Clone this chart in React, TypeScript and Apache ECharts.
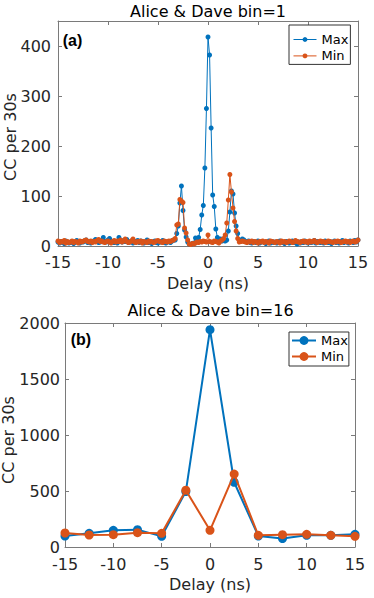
import React, { useEffect, useRef } from "react";
import * as echarts from "echarts";

// ---------- DATA ----------
// Panel (a): bin = 1 (one time-tag unit = 0.15625 ns), delays -15 ... 15 ns
const BIN1_WIDTH_NS = 0.15625;
const bin1Indices: number[] = Array.from({ length: 193 }, (_, i) => i - 96);
const bin1Delays: number[] = bin1Indices.map((k) => k * BIN1_WIDTH_NS);

// Max, bins -96 ... -22
const maxBin1Left = [
  8, 6, 9, 7, 5, 10, 8, 6, 7, 9,
  5, 8, 11, 7, 6, 9, 8, 10, 12, 7,
  9, 6, 8, 10, 13, 9, 7, 8, 11, 17,
  9, 8, 12, 15, 10, 8, 7, 9, 6, 17,
  10, 8, 11, 9, 13, 7, 8, 10, 6, 9,
  8, 11, 7, 10, 9, 6, 8, 12, 7, 9,
  5, 8, 10, 7, 6, 9, 8, 11, 7, 6,
  8, 9, 7, 10, 12,
];
// Max, bins -21 ... 21
const maxBin1Center = [
  12, 25, 40, 86, 120, 71, 32, 18, 8, 4,
  3, 5, 6, 16, 15, 17, 33, 62, 81, 156,
  275, 418, 382, 236, 102, 79, 34, 17, 12, 14,
  10, 12, 10, 12, 30, 68, 110, 104, 66, 40,
  25, 12, 10,
];
// Max, bins 22 ... 96
const maxBin1Right = [
  14, 12, 9, 8, 10, 7, 6, 9, 8, 7,
  10, 6, 8, 9, 7, 5, 8, 10, 6, 9,
  7, 8, 6, 9, 10, 8, 7, 5, 9, 8,
  6, 8, 10, 7, 9, 4, 8, 6, 9, 7,
  10, 8, 6, 9, 7, 8, 11, 6, 9, 8,
  7, 9, 6, 10, 8, 7, 9, 5, 8, 10,
  7, 9, 6, 8, 11, 7, 9, 8, 6, 10,
  9, 7, 11, 8, 12,
];

// Min, bins -96 ... -22
const minBin1Left = [
  10, 7, 9, 8, 11, 6, 9, 7, 8, 10,
  7, 9, 8, 6, 10, 8, 9, 11, 12, 9,
  8, 10, 7, 9, 8, 11, 13, 9, 10, 8,
  7, 9, 10, 8, 6, 9, 11, 8, 10, 9,
  12, 8, 10, 14, 9, 7, 8, 10, 14, 8,
  7, 9, 8, 10, 6, 9, 8, 7, 10, 8,
  9, 7, 8, 10, 11, 9, 8, 7, 10, 9,
  8, 10, 9, 11, 12,
];
// Min, bins -21 ... 21
const minBin1Center = [
  15, 42, 44, 93, 90, 87, 36, 26, 12, 4,
  3, 5, 4, 6, 8, 7, 9, 8, 10, 9,
  8, 22, 9, 8, 7, 10, 9, 8, 6, 10,
  12, 15, 22, 46, 92, 143, 108, 76, 49, 30,
  15, 8, 9,
];
// Min, bins 22 ... 96
const minBin1Right = [
  10, 9, 8, 7, 9, 8, 10, 7, 9, 8,
  6, 9, 8, 10, 7, 9, 8, 6, 10, 9,
  8, 7, 9, 8, 6, 10, 8, 9, 7, 8,
  10, 9, 7, 8, 11, 9, 8, 7, 9, 10,
  8, 9, 7, 10, 8, 9, 11, 8, 7, 9,
  10, 8, 9, 7, 8, 10, 9, 8, 7, 9,
  8, 10, 9, 7, 8, 9, 10, 8, 9, 7,
  9, 10, 8, 9, 12,
];

const maxBin1 = [...maxBin1Left, ...maxBin1Center, ...maxBin1Right];
const minBin1 = [...minBin1Left, ...minBin1Center, ...minBin1Right];

// Panel (b): bin = 16
const bin16Delays = [-15, -12.5, -10, -7.5, -5, -2.5, 0, 2.5, 5, 7.5, 10, 12.5, 15];
const maxBin16 = [98, 122, 149, 155, 95, 495, 1940, 578, 98, 75, 104, 104, 113];
const minBin16 = [125, 107, 110, 128, 122, 507, 149, 651, 104, 110, 113, 104, 95];

const seriesNames = ["Max", "Min"];
const titles = ["Alice & Dave bin=1", "Alice & Dave bin=16"];
const panelTags = ["(a)", "(b)"];
const xLabel = "Delay (ns)";
const yLabel = "CC per 30s";

// ---------- STYLE ----------
const BLUE = "#0072BD";
const ORANGE = "#D95319";
const AXIS = "#7a7a7a";
const TXT = "#262626";
const FONT = "DejaVu Sans";

function pairs(xs: number[], ys: number[]) {
  return xs.map((x, i) => [x, ys[i]]);
}

function xAxisDef(gridIndex: number, pos: "bottom" | "top", labelMargin: number, nameGap: number) {
  const main = pos === "bottom";
  return {
    type: "value",
    gridIndex,
    position: pos,
    min: -15,
    max: 15,
    interval: 5,
    axisLine: { show: true, onZero: false, lineStyle: { color: AXIS, width: 1 } },
    axisTick: { show: true, inside: true, length: 4, lineStyle: { color: AXIS } },
    axisLabel: {
      show: main,
      margin: labelMargin,
      fontSize: 16,
      fontFamily: FONT,
      color: TXT,
    },
    splitLine: { show: false },
    name: main ? xLabel : "",
    nameLocation: "middle",
    nameGap,
    nameTextStyle: { fontSize: 16, fontFamily: FONT, color: TXT },
  };
}

function yAxisDef(gridIndex: number, pos: "left" | "right", max: number, interval: number, labelMargin: number) {
  const main = pos === "left";
  return {
    type: "value",
    gridIndex,
    position: pos,
    min: 0,
    max,
    interval,
    axisLine: { show: true, onZero: false, lineStyle: { color: AXIS, width: 1 } },
    axisTick: { show: true, inside: true, length: 4, lineStyle: { color: AXIS } },
    axisLabel: {
      show: main,
      margin: labelMargin,
      fontSize: 16,
      fontFamily: FONT,
      color: TXT,
      formatter: (v: number) => (v % interval === 0 ? String(v) : ""),
    },
    splitLine: { show: false },
  };
}

export default function App() {
  const ref = useRef<HTMLDivElement>(null);

  useEffect(() => {
    if (!ref.current) return;
    const chart = echarts.init(ref.current, undefined, { renderer: "svg" });

    const option: any = {
      animation: false,
      backgroundColor: "#ffffff",
      grid: [
        { left: 58, top: 21, width: 300, height: 225 },
        { left: 65, top: 323, width: 290, height: 224 },
      ],
      xAxis: [
        xAxisDef(0, "bottom", 8, 29),
        xAxisDef(0, "top", 8, 29),
        xAxisDef(1, "bottom", 9, 29),
        xAxisDef(1, "top", 9, 29),
      ],
      yAxis: [
        yAxisDef(0, "left", 450, 100, 7),
        yAxisDef(0, "right", 450, 100, 7),
        yAxisDef(1, "left", 2000, 500, 5),
        yAxisDef(1, "right", 2000, 500, 5),
      ],
      legend: [
        {
          data: seriesNames,
          orient: "vertical",
          left: 289,
          top: 25,
          padding: [8, 2, 2, 4],
          itemWidth: 23,
          itemHeight: 6,
          itemGap: 3.4,
          borderColor: "#333",
          borderWidth: 1,
          backgroundColor: "#fff",
          textStyle: { fontSize: 13, fontFamily: FONT, color: "#000" },
          lineStyle: { width: 1 },
        },
        {
          data: seriesNames,
          orient: "vertical",
          left: 289,
          top: 332,
          padding: [2, 1, 3, 2],
          itemWidth: 24,
          itemHeight: 11,
          itemGap: 3,
          borderColor: "#333",
          borderWidth: 1,
          backgroundColor: "#fff",
          textStyle: { fontSize: 13, fontFamily: FONT, color: "#000" },
          lineStyle: { width: 2 },
        },
      ],
      graphic: [
        {
          type: "text",
          x: 208,
          y: 11,
          style: { text: titles[0], fontSize: 16, fontFamily: FONT, fill: "#000", textAlign: "center", textVerticalAlign: "middle" },
        },
        {
          type: "text",
          x: 210.5,
          y: 310.5,
          style: { text: titles[1], fontSize: 16, fontFamily: FONT, fill: "#000", textAlign: "center", textVerticalAlign: "middle" },
        },
        {
          type: "text",
          x: 62.7,
          y: 40,
          style: { text: panelTags[0], fontSize: 16, fontWeight: "bold", fontFamily: "Liberation Sans", fill: "#000", textAlign: "left", textVerticalAlign: "middle" },
        },
        {
          type: "text",
          x: 70.7,
          y: 339,
          style: { text: panelTags[1], fontSize: 16, fontWeight: "bold", fontFamily: "Liberation Sans", fill: "#000", textAlign: "left", textVerticalAlign: "middle" },
        },
        {
          type: "text",
          x: 10.5,
          y: 137,
          rotation: Math.PI / 2,
          style: { text: yLabel, fontSize: 16, fontFamily: FONT, fill: TXT, textAlign: "center", textVerticalAlign: "middle" },
        },
        {
          type: "text",
          x: 8.5,
          y: 440,
          rotation: Math.PI / 2,
          style: { text: yLabel, fontSize: 16, fontFamily: FONT, fill: TXT, textAlign: "center", textVerticalAlign: "middle" },
        },
      ],
      series: [
        {
          type: "line",
          name: seriesNames[0],
          xAxisIndex: 0,
          yAxisIndex: 0,
          data: pairs(bin1Delays, maxBin1),
          symbol: "circle",
          symbolSize: 5,
          showSymbol: true,
          lineStyle: { width: 1, color: BLUE },
          itemStyle: { color: BLUE },
          z: 2,
        },
        {
          type: "line",
          name: seriesNames[1],
          xAxisIndex: 0,
          yAxisIndex: 0,
          data: pairs(bin1Delays, minBin1),
          symbol: "circle",
          symbolSize: 5,
          showSymbol: true,
          lineStyle: { width: 1, color: ORANGE },
          itemStyle: { color: ORANGE },
          z: 3,
        },
        {
          type: "line",
          name: seriesNames[0],
          xAxisIndex: 2,
          yAxisIndex: 2,
          data: pairs(bin16Delays, maxBin16),
          symbol: "circle",
          symbolSize: 9,
          showSymbol: true,
          lineStyle: { width: 2, color: BLUE },
          itemStyle: { color: BLUE },
          z: 2,
        },
        {
          type: "line",
          name: seriesNames[1],
          xAxisIndex: 2,
          yAxisIndex: 2,
          data: pairs(bin16Delays, minBin16),
          symbol: "circle",
          symbolSize: 9,
          showSymbol: true,
          lineStyle: { width: 2, color: ORANGE },
          itemStyle: { color: ORANGE },
          z: 3,
        },
      ],
    };

    chart.setOption(option);
    return () => chart.dispose();
  }, []);

  return (
    <div
      ref={ref}
      style={{ position: "absolute", left: 0, top: 0, width: 374, height: 598, background: "#fff" }}
    />
  );
}
